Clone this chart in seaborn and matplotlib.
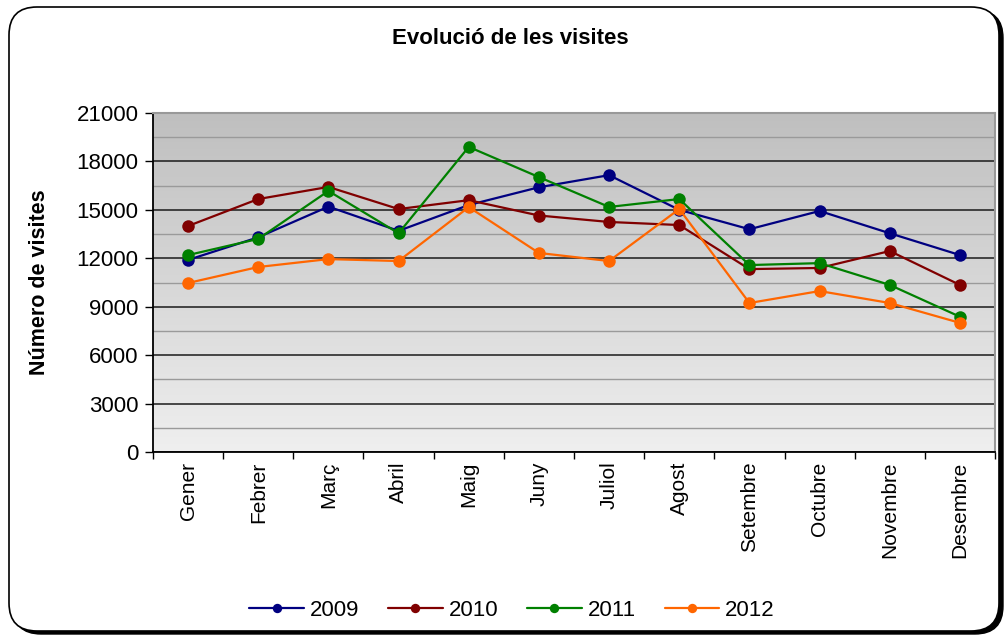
import matplotlib
matplotlib.use('Agg')
import matplotlib.pyplot as plt
from matplotlib.patches import FancyBboxPatch
from matplotlib.transforms import IdentityTransform
from matplotlib.ticker import MultipleLocator
from matplotlib.colors import LinearSegmentedColormap
import seaborn as sns
import pandas as pd
import numpy as np

# data
mesos = ["Gener", "Febrer", "Març", "Abril", "Maig", "Juny", "Juliol",
         "Agost", "Setembre", "Octubre", "Novembre", "Desembre"]
v2009 = [11900, 13300, 15200, 13700, 15300, 16400, 17150, 15000, 13800, 14930, 13550, 12200]
v2010 = [14000, 15670, 16420, 15050, 15600, 14650, 14250, 14060, 11330, 11400, 12450, 10350]
v2011 = [12200, 13200, 16170, 13550, 18900, 17030, 15180, 15670, 11580, 11700, 10350, 8380]
v2012 = [10470, 11460, 11950, 11830, 15170, 12330, 11830, 15050, 9230, 9970, 9230, 8000]
anys = ["2009", "2010", "2011", "2012"]
colors = ["#000080", "#800000", "#008000", "#ff6600"]

rows = []
for a, vals in zip(anys, [v2009, v2010, v2011, v2012]):
    for i, v in enumerate(vals):
        rows.append({"mes": i, "visites": v, "any": a})
df = pd.DataFrame(rows)

sns.set_style("white")
plt.rcParams['font.family'] = ['Liberation Sans', 'DejaVu Sans']
plt.rcParams['text.color'] = 'black'
plt.rcParams['axes.labelcolor'] = 'black'
plt.rcParams['xtick.color'] = 'black'
plt.rcParams['ytick.color'] = 'black'

W, H = 1006, 637
fig = plt.figure(figsize=(W / 100, H / 100), dpi=100)
ax = fig.add_axes([153 / W, (H - 452) / H, (995 - 153) / W, (452 - 113) / H])

# gradient background of the plot area (dark on top, light at bottom)
grad = np.linspace(0, 1, 256).reshape(-1, 1)
cmap = LinearSegmentedColormap.from_list("g", ["#bfbfbf", "#efefef"])
ax.imshow(grad, aspect='auto', cmap=cmap, extent=[-0.5, 11.5, 0, 21000],
          origin='upper', zorder=0, interpolation='bicubic')

sns.lineplot(data=df, x="mes", y="visites", hue="any", palette=colors,
             marker="o", markersize=9, markeredgewidth=0, linewidth=1.6,
             ax=ax, zorder=5, legend=True)

ax.set_xlim(-0.5, 11.5)
ax.set_ylim(0, 21000)
ax.yaxis.set_major_locator(MultipleLocator(3000))
ax.yaxis.set_minor_locator(MultipleLocator(1500))
ax.grid(which='minor', axis='y', color='#9a9a9a', linewidth=1.0, zorder=1)
ax.grid(which='major', axis='y', color='#1a1a1a', linewidth=1.1, zorder=2)
ax.set_axisbelow(True)

ax.set_xticks(range(12))
ax.set_xticklabels(mesos, rotation=90, fontsize=15)
ax.set_xticks(np.arange(-0.5, 12, 1), minor=True)
ax.tick_params(axis='x', which='major', length=0, pad=7, labelcolor='black')
ax.tick_params(axis='x', which='minor', length=5, width=1, color='black', direction='out', bottom=True)
ax.tick_params(axis='y', which='major', length=6, width=1, color='black', direction='out', left=True,
               labelsize=16, pad=4.5, labelcolor='black')
ax.tick_params(axis='y', which='minor', length=0)

for s in ['left', 'bottom']:
    ax.spines[s].set_color('black')
    ax.spines[s].set_linewidth(1.3)
for s in ['top', 'right']:
    ax.spines[s].set_color('#999999')
    ax.spines[s].set_linewidth(1.5)

ax.set_xlabel("")
ax.set_ylabel("Número de visites", fontsize=15.5, fontweight='bold', color='black')
ax.yaxis.set_label_coords((50 - 153) / (995 - 153), 0.5)
fig.text(510 / W, 1 - 38 / H, "Evolució de les visites", ha='center', va='center',
         fontsize=16, fontweight='bold', color='black')

handles, labels = ax.get_legend_handles_labels()
ax.legend(handles, labels, loc='center', bbox_to_anchor=(512 / W, 1 - 610 / H),
          bbox_transform=fig.transFigure, ncol=4, frameon=False, fontsize=16,
          handlelength=2.45, handletextpad=0.27, columnspacing=1.3, markerscale=0.75,
          labelcolor='black')

# rounded outer frame with a small shadow
shadow = FancyBboxPatch((13, 3), 990, 624, boxstyle="round,pad=0,rounding_size=28",
                        transform=IdentityTransform(), facecolor='black', edgecolor='black', zorder=-2)
frame = FancyBboxPatch((9, 6), 990, 624, boxstyle="round,pad=0,rounding_size=28",
                       transform=IdentityTransform(), facecolor='white', edgecolor='black',
                       linewidth=1.2, zorder=-1)
fig.patches.extend([shadow, frame])

fig.savefig("out.png", dpi=100)
